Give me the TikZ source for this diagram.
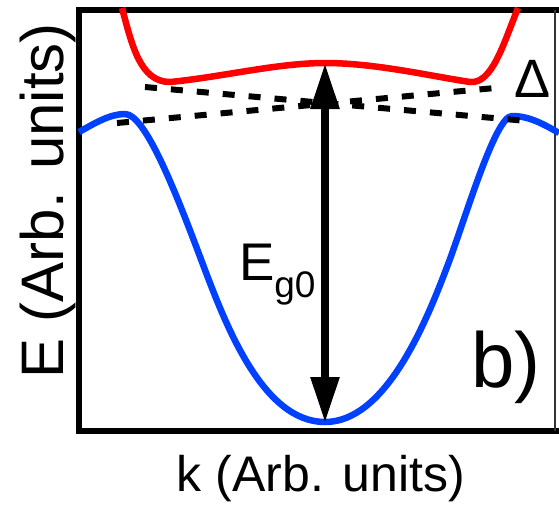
\documentclass[tikz,border=0pt]{standalone}
\usepackage{fontspec}
\setmainfont{Liberation Sans}
\usetikzlibrary{arrows.meta}
\definecolor{bandred}{RGB}{255,0,0}
\definecolor{bandblue}{RGB}{0,64,255}
\tikzset{
  framebox/.style={line width=6pt, black},
  cband/.style={line width=6.5pt, bandred, line join=round},
  vband/.style={line width=6.5pt, bandblue, line join=round},
  asym/.style={line width=6pt, black, dash pattern=on 12pt off 14pt},
  gaparrow/.style={line width=8.5pt, black, {Triangle[length=46pt,width=27pt]}-{Triangle[length=46pt,width=27pt]}},
  lbl/.style={inner sep=0pt, outer sep=0pt}
}
\begin{document}
\begin{tikzpicture}[x=1pt,y=-1pt]
\useasboundingbox (0,0) rectangle (559,504);
\clip (0,0) rectangle (559,504);
% frame
\draw[framebox] (600,10) -- (79,10) -- (79,431) -- (600,431);
\draw[line width=1.2pt, black!80] (555,10) -- (555,431);
% conduction band
\draw[cband] (122,8) .. controls (132,45) and (140,82) .. (170,82)
  .. controls (222,77) and (277,63) .. (325,63)
  .. controls (375,63) and (430,76) .. (470,82)
  .. controls (492,84) and (503,45) .. (518,8);
% valence band
\draw[vband] (79,132) .. controls (95,123) and (110,114) .. (125,114)
  .. controls (145,114) and (175,190) .. (202,262)
  .. controls (225,323) and (262,422) .. (325,422)
  .. controls (385,422) and (425,325) .. (447,267)
  .. controls (465,220) and (495,116) .. (512,116)
  .. controls (530,116) and (545,125) .. (559,133);
% dashed asymptotes
\coordinate (a1) at (145,87);
\coordinate (a2) at (527,121);
\coordinate (b1) at (117,123);
\coordinate (b2) at (495,88);
\draw[asym] (a1) -- (a2);
\draw[asym] (b1) -- (b2);
% gap arrow
\coordinate (ctop) at (325,63);
\coordinate (vbot) at (325,423);
\draw[gaparrow] (ctop) -- (vbot);
% labels
\node[lbl, anchor=base west] (eg) at (239,280) {\fontsize{53}{53}\selectfont E\raisebox{-17pt}{\fontsize{37}{37}\selectfont g0}};
\node[lbl, anchor=base] (delta) at (533,97) {\fontsize{54}{54}\selectfont Δ};
\node[lbl, anchor=base] (panel) at (506,387) {\fontsize{78}{78}\selectfont b)};
\node[lbl, anchor=base] (xlab) at (321,491) {\fontsize{50}{50}\selectfont k (Arb. units)};
\node[lbl, anchor=base, rotate=90] (ylab) at (63,201) {\fontsize{60}{60}\selectfont E (Arb. units)};
\end{tikzpicture}
\end{document}
